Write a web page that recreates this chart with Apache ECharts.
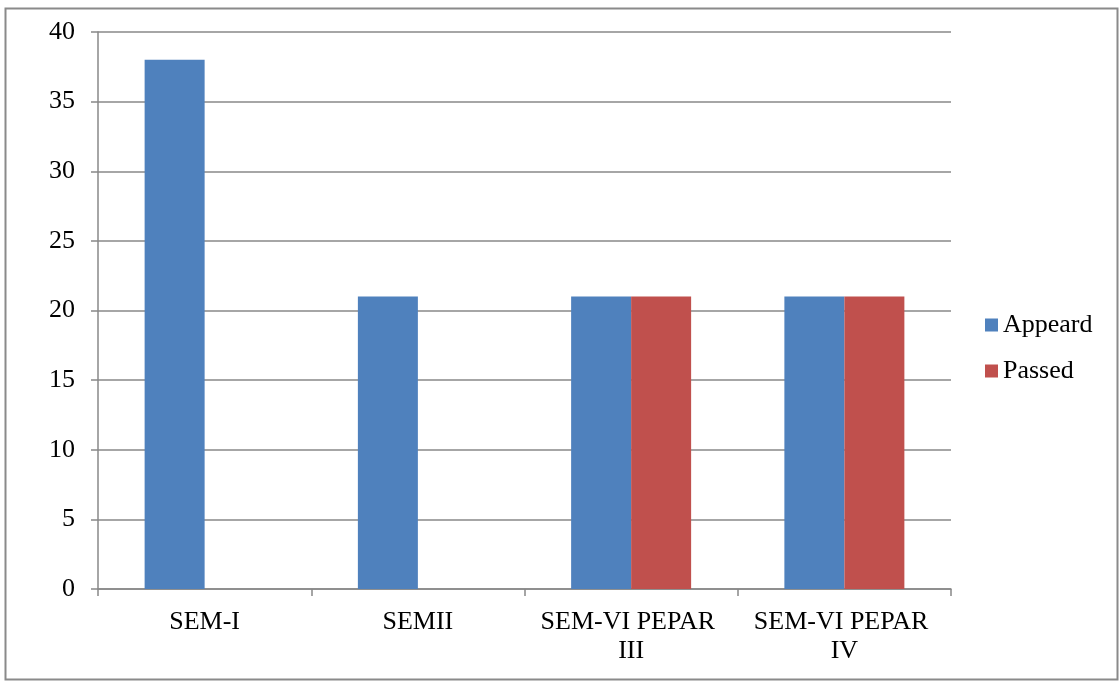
<!DOCTYPE html>
<html><head><meta charset="utf-8">
<script src="https://cdn.jsdelivr.net/npm/echarts@6/dist/echarts.min.js"></script>
<style>html,body{margin:0;padding:0;background:#fff}#c{width:1120px;height:682px}</style>
</head><body><div id="c"></div>
<script>
const categories = ["SEM-I", "SEMII", "SEM-VI PEPAR III", "SEM-VI PEPAR IV"];
const appeard = [38, 21, 21, 21];
const passed = [0, 0, 21, 21];
const seriesNames = ["Appeard", "Passed"];

const chart = echarts.init(document.getElementById('c'));
const font = "'Liberation Serif', 'Times New Roman', serif";
chart.setOption({
  animation: false,
  backgroundColor: '#fff',
  graphic: [{
    type: 'rect', shape: {x: 5.5, y: 8.5, width: 1112, height: 671},
    style: {fill: 'none', stroke: '#8a8a8a', lineWidth: 2}, silent: true
  }],
  grid: {left: 98, right: 169, top: 32, bottom: 93, containLabel: false},
  legend: {
    orient: 'vertical', left: 980, top: 307, itemGap: 20,
    itemWidth: 13, itemHeight: 13, icon: 'rect',
    textStyle: {fontFamily: font, fontSize: 26, color: '#000', lineHeight: 26},
    data: seriesNames
  },
  xAxis: {
    type: 'category', data: categories,
    axisLine: {lineStyle: {color: '#888', width: 1.5}},
    axisTick: {show: true, length: 7, lineStyle: {color: '#888', width: 1.5}},
    axisLabel: {fontFamily: font, fontSize: 26, color: '#000', margin: 19,
      width: 190, overflow: 'break', lineHeight: 29, interval: 0}
  },
  yAxis: {
    type: 'value', min: 0, max: 40, interval: 5,
    axisLine: {show: true, lineStyle: {color: '#888', width: 1.5}},
    axisTick: {show: true, length: 7, lineStyle: {color: '#888', width: 1.5}},
    splitLine: {lineStyle: {color: '#888', width: 1.5}},
    axisLabel: {fontFamily: font, fontSize: 26, color: '#000', margin: 23}
  },
  series: [
    {name: seriesNames[0], type: 'bar', data: appeard, barWidth: 60, barGap: '0%',
      itemStyle: {color: '#4F81BD'}},
    {name: seriesNames[1], type: 'bar', data: passed, barWidth: 60, barGap: '0%',
      itemStyle: {color: '#C0504D'}}
  ]
});
</script></body></html>
